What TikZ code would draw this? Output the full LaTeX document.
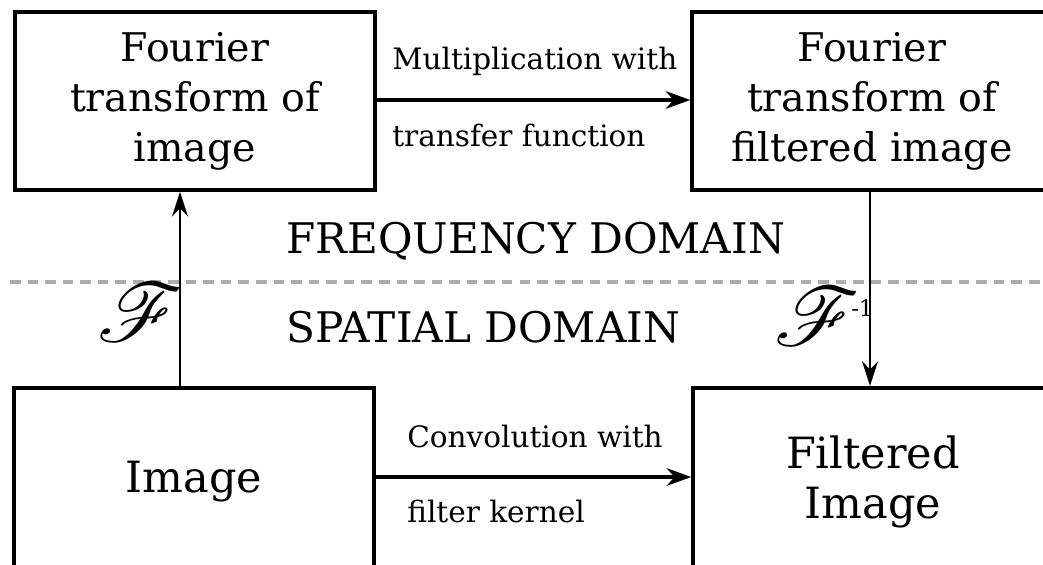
\documentclass[tikz,border=0pt]{standalone}
\usepackage{fontspec}
\usepackage{mathrsfs}
\setmainfont{DejaVu Serif}
\usetikzlibrary{arrows.meta}

\newcommand{\bigF}{\scalebox{1.9}{$\mathscr{F}$}}
\newcommand{\invsup}{\kern-5pt\raisebox{16pt}{\fontsize{13}{14}\selectfont -1}}

\tikzset{
  box/.style={draw, line width=2pt, inner sep=0pt, align=center},
  topbox/.style={box, minimum width=7.2cm, minimum height=3.56cm,
    font=\fontsize{22.5}{28.5}\selectfont},
  botbox/.style={box, minimum width=7.2cm, minimum height=3.75cm, anchor=north,
    font=\fontsize{24.5}{28.5}\selectfont},
  lbl/.style={inner sep=0pt, anchor=base west, font=\fontsize{16.8}{18}\selectfont},
  dom/.style={inner sep=0pt, anchor=base west, font=\fontsize{24}{28}\selectfont},
  fsym/.style={inner sep=0pt, font=\fontsize{24}{28}\selectfont},
  harr/.style={line width=2pt, -{Stealth[length=14pt, width=10pt, inset=4.5pt]}},
  varr/.style={line width=1.4pt, -{Stealth[length=14pt, width=9pt, inset=4.5pt]}}
}

\begin{document}
\begin{tikzpicture}[x=0.02cm, y=-0.02cm]
  \path[use as bounding box, fill=white] (0,0) rectangle (1043,564);

  % the four boxes
  \node[topbox] (ftimg) at (195,101) {Fourier\\transform of\\image};
  \node[topbox] (ftfilt) at (872,101) {Fourier\\transform of\\filtered image};
  \node[botbox] (img) at (194,386) {Image};
  \node[botbox] (filt) at (873,386) {Filtered\\Image};

  % domain split
  \coordinate (dl) at (10,282);
  \coordinate (dr) at (1043,282);
  \draw[gray!65, line width=2pt, dash pattern=on 6pt off 4pt] (dl) -- (dr);
  \node[fsym] (fwd) at (140,312) {\bigF};
  \node[dom] (freq) at (286,253) {FREQUENCY DOMAIN};
  \node[dom] (spat) at (286,342) {SPATIAL DOMAIN};
  \node[fsym, anchor=west] (inv) at (774,316) {\bigF\invsup};

  % transforms
  \coordinate (lx) at (180,0);
  \coordinate (rx) at (870,0);
  \draw[varr] (img.north -| lx) -- (ftimg.south -| lx);
  \draw[varr] (ftfilt.south -| rx) -- (filt.north -| rx);

  % products
  \draw[harr] (ftimg.east |- 0,100) -- (ftfilt.west |- 0,100);
  \draw[harr] (img.east |- 0,477) -- (filt.west |- 0,477);
  \node[lbl] (mult) at (392,70) {Multiplication with};
  \node[lbl] (tf) at (392,147) {transfer function};
  \node[lbl] (conv) at (407,447) {Convolution with};
  \node[lbl] (fk) at (407,522) {filter kernel};
\end{tikzpicture}
\end{document}
